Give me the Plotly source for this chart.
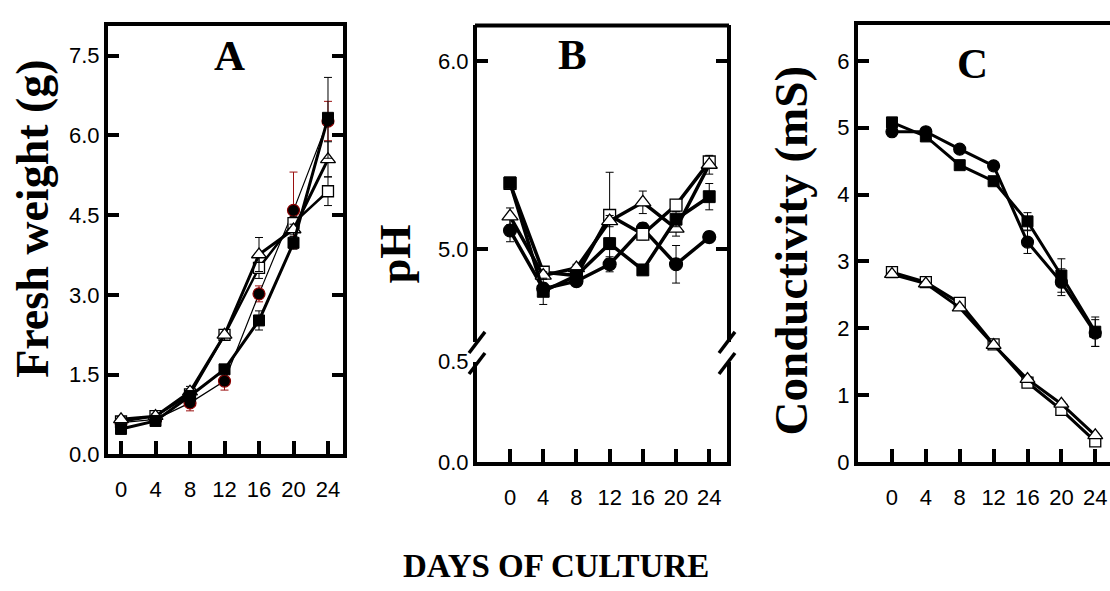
import plotly.graph_objects as go

W, H = 1110, 591

# ---------------- data ----------------
days = [0, 4, 8, 12, 16, 20, 24]
x_ticks = [0, 4, 8, 12, 16, 20, 24]

# Panel A: fresh weight (g)
a_circle = [0.60, 0.66, 0.97, 1.38, 3.02, 4.59, 6.27]
a_circle_err = [0.05, 0.05, 0.15, 0.17, 0.15, 0.72, 0.37]
a_fsq = [0.48, 0.63, 1.10, 1.60, 2.52, 3.98, 6.33]
a_fsq_err = [0.04, 0.04, 0.08, 0.08, 0.18, 0.12, 0.76]
a_osq = [0.62, 0.72, 1.13, 2.25, 3.51, 4.35, 4.95]
a_osq_err = [0.05, 0.05, 0.08, 0.10, 0.20, 0.12, 0.27]
a_tri = [0.66, 0.72, 1.18, 2.25, 3.76, 4.23, 5.55]
a_tri_err = [0.05, 0.05, 0.10, 0.10, 0.32, 0.10, 0.33]
a_yticks = [0.0, 1.5, 3.0, 4.5, 6.0, 7.5]
a_yticktext = ["0.0", "1.5", "3.0", "4.5", "6.0", "7.5"]

# Panel B: pH
b_circle = [5.10, 4.79, 4.83, 4.92, 5.11, 4.92, 5.065]
b_circle_err = [0.06, 0.03, 0.02, 0.04, 0.03, 0.10, 0.03]
b_fsq = [5.354, 4.776, 4.86, 5.03, 4.89, 5.16, 5.28]
b_fsq_err = [0.02, 0.07, 0.02, 0.03, 0.02, 0.04, 0.07]
b_osq = [5.35, 4.878, 4.86, 5.18, 5.08, 5.235, 5.465]
b_osq_err = [0.02, 0.02, 0.02, 0.23, 0.03, 0.03, 0.03]
b_tri = [5.175, 4.86, 4.90, 5.15, 5.25, 5.11, 5.45]
b_tri_err = [0.045, 0.02, 0.02, 0.03, 0.06, 0.04, 0.05]
b_upper_ticks = [5.0, 6.0]
b_upper_ticktext = ["5.0", "6.0"]
b_lower_ticks = [0.0, 0.5]
b_lower_ticktext = ["0.0", "0.5"]

# Panel C: conductivity (mS)
c_circle = [4.94, 4.94, 4.68, 4.43, 3.29, 2.69, 1.93]
c_circle_err = [0.03, 0.03, 0.03, 0.04, 0.17, 0.20, 0.20]
c_fsq = [5.08, 4.87, 4.44, 4.20, 3.60, 2.79, 1.95]
c_fsq_err = [0.03, 0.03, 0.04, 0.04, 0.13, 0.25, 0.22]
c_osq = [2.84, 2.69, 2.38, 1.76, 1.19, 0.78, 0.31]
c_osq_err = [0.03, 0.03, 0.04, 0.03, 0.06, 0.03, 0.03]
c_tri = [2.81, 2.67, 2.31, 1.75, 1.24, 0.87, 0.40]
c_tri_err = [0.03, 0.03, 0.03, 0.03, 0.04, 0.03, 0.03]
c_yticks = [0, 1, 2, 3, 4, 5, 6]

# ---------------- geometry helpers ----------------
def fx(p):
    return p / W


def fy(p):
    return 1 - p / H


A_dom_x = [fx(108), fx(343)]
A_dom_y = [fy(462), fy(15)]
B_dom_x = [fx(477), fx(727)]
B_up_dom = [fy(345), fy(14)]
B_lo_dom = [fy(470), fy(365)]
C_dom_x = [fx(858), 1.0]
C_dom_y = [fy(470), fy(14)]
A_xrange = [-1.51, 25.74]
B_xrange = [-3.98, 26.14]
C_xrange = [-4.01, 25.74]

TICKFONT = dict(family="Liberation Sans Narrow, Liberation Sans, Arial", size=22, color="black")
SERIF = "Liberation Serif, Times New Roman"

fig = go.Figure()


def add_series(xa, ya, y, err, kind, lw, err_color="black", edge="black", scale=1.0):
    if kind == "circle":
        marker = dict(symbol="circle", size=12 * scale, color="black", line=dict(color=edge, width=1.2))
    elif kind == "fsq":
        marker = dict(symbol="square", size=11 * scale, color="black", line=dict(color="black", width=1))
    elif kind == "osq":
        marker = dict(symbol="square", size=11 * scale, color="white", line=dict(color="black", width=1.3))
    else:
        marker = dict(symbol="triangle-up", size=13 * scale, color="white",
                      line=dict(color="black", width=1.3))
    fig.add_trace(go.Scatter(
        x=days, y=y, xaxis=xa, yaxis=ya, mode="lines+markers",
        line=dict(color="black", width=lw), marker=marker,
        error_y=dict(type="data", array=err, visible=True, color=err_color, thickness=1, width=4),
        showlegend=False, cliponaxis=False,
    ))


# Panel A
add_series("x", "y", a_circle, a_circle_err, "circle", 1.2, err_color="#9a1010", edge="#8b0000")
add_series("x", "y", a_osq, a_osq_err, "osq", 2.5)
add_series("x", "y", a_tri, a_tri_err, "tri", 3)
add_series("x", "y", a_fsq, a_fsq_err, "fsq", 3)

# Panel B (upper part of the broken axis)
add_series("x2", "y2", b_circle, b_circle_err, "circle", 3.5, scale=1.08)
add_series("x2", "y2", b_osq, b_osq_err, "osq", 3.5, scale=1.08)
add_series("x2", "y2", b_tri, b_tri_err, "tri", 3.5, scale=1.08)
add_series("x2", "y2", b_fsq, b_fsq_err, "fsq", 3.5, scale=1.08)

# Panel C
add_series("x3", "y3", c_circle, c_circle_err, "circle", 3)
add_series("x3", "y3", c_osq, c_osq_err, "osq", 3)
add_series("x3", "y3", c_tri, c_tri_err, "tri", 3)
add_series("x3", "y3", c_fsq, c_fsq_err, "fsq", 3)

# empty trace registering the lower part of panel B's broken axis
fig.add_trace(go.Scatter(x=[None], y=[None], xaxis="x4", yaxis="y4", mode="markers",
                         showlegend=False, hoverinfo="skip"))

common_x = dict(showgrid=False, zeroline=False, showline=True, linecolor="black", linewidth=4,
                ticks="inside", ticklen=13, tickwidth=4, tickcolor="black",
                tickvals=x_ticks, ticktext=[str(v) for v in x_ticks], tickfont=TICKFONT,
                ticklabelstandoff=12)
common_y = dict(showgrid=False, zeroline=False, showline=True, linecolor="black", linewidth=4,
                ticks="inside", ticklen=11, tickwidth=4, tickcolor="black", tickfont=TICKFONT)

fig.update_layout(
    width=W, height=H, margin=dict(l=0, r=0, t=0, b=0, pad=0),
    paper_bgcolor="white", plot_bgcolor="white",
    xaxis=dict(common_x, domain=A_dom_x, range=A_xrange, anchor="y", mirror=True),
    yaxis=dict(common_y, domain=A_dom_y, range=[0, 8.05], anchor="x", mirror="ticks",
               tickvals=a_yticks, ticktext=a_yticktext),
    xaxis2=dict(domain=B_dom_x, range=B_xrange, anchor="y2", visible=False,
                showgrid=False, zeroline=False),
    yaxis2=dict(common_y, domain=B_up_dom, range=[4.504, 6.192], anchor="x2", mirror="ticks",
                tickvals=b_upper_ticks, ticktext=b_upper_ticktext),
    xaxis4=dict(common_x, domain=B_dom_x, range=B_xrange, anchor="y4", mirror=False),
    yaxis4=dict(common_y, domain=B_lo_dom, range=[0, 0.5], anchor="x4", mirror=True, ticks="",
                tickvals=b_lower_ticks, ticktext=b_lower_ticktext),
    xaxis3=dict(common_x, domain=C_dom_x, range=C_xrange, anchor="y3", mirror=True),
    yaxis3=dict(common_y, domain=C_dom_y, range=[0, 6.53], anchor="x3", mirror=False,
                tickvals=c_yticks, ticktext=[str(v) for v in c_yticks]),
    yaxis5=dict(showgrid=False, zeroline=False, showline=False, overlaying="y3", side="right",
                anchor="x3", range=[0, 6.53], ticks="inside", ticklen=11, tickwidth=4,
                tickcolor="black", tickvals=c_yticks, showticklabels=False),
)

# top frame line and break marks for panel B
shapes = [
    dict(type="line", xref="paper", yref="paper", x0=B_dom_x[0] - fx(2), x1=B_dom_x[1] + fx(2),
         y0=B_up_dom[1], y1=B_up_dom[1], line=dict(color="black", width=4)),
]
for xb in (B_dom_x[0], B_dom_x[1]):
    for yc in (345, 367):
        shapes.append(dict(type="line", xref="paper", yref="paper",
                           x0=xb - fx(8), x1=xb + fx(8), y0=fy(yc + 11), y1=fy(yc - 11),
                           line=dict(color="black", width=3.5)))
fig.update_layout(shapes=shapes)

ann = [
    dict(text="Fresh weight (g)", x=fx(33), y=fy(216), textangle=-90, size=46),
    dict(text="pH", x=fx(395), y=fy(252), textangle=-90, size=44),
    dict(text="Conductivity (mS)", x=fx(791), y=fy(250), textangle=-90, size=47),
    dict(text="A", x=fx(229), y=fy(45), textangle=0, size=43),
    dict(text="B", x=fx(572), y=fy(44), textangle=0, size=43),
    dict(text="C", x=fx(972), y=fy(54), textangle=0, size=43),
    dict(text="DAYS OF CULTURE", x=fx(556), y=fy(578), textangle=0, size=33),
]
annotations = []
for a in ann:
    size = a.pop("size")
    annotations.append(dict(a, xref="paper", yref="paper", xanchor="center", yanchor="middle",
                            showarrow=False,
                            font=dict(family=SERIF, size=size, color="black", weight="bold")))
fig.update_layout(annotations=annotations)

fig.write_html("out.html")
